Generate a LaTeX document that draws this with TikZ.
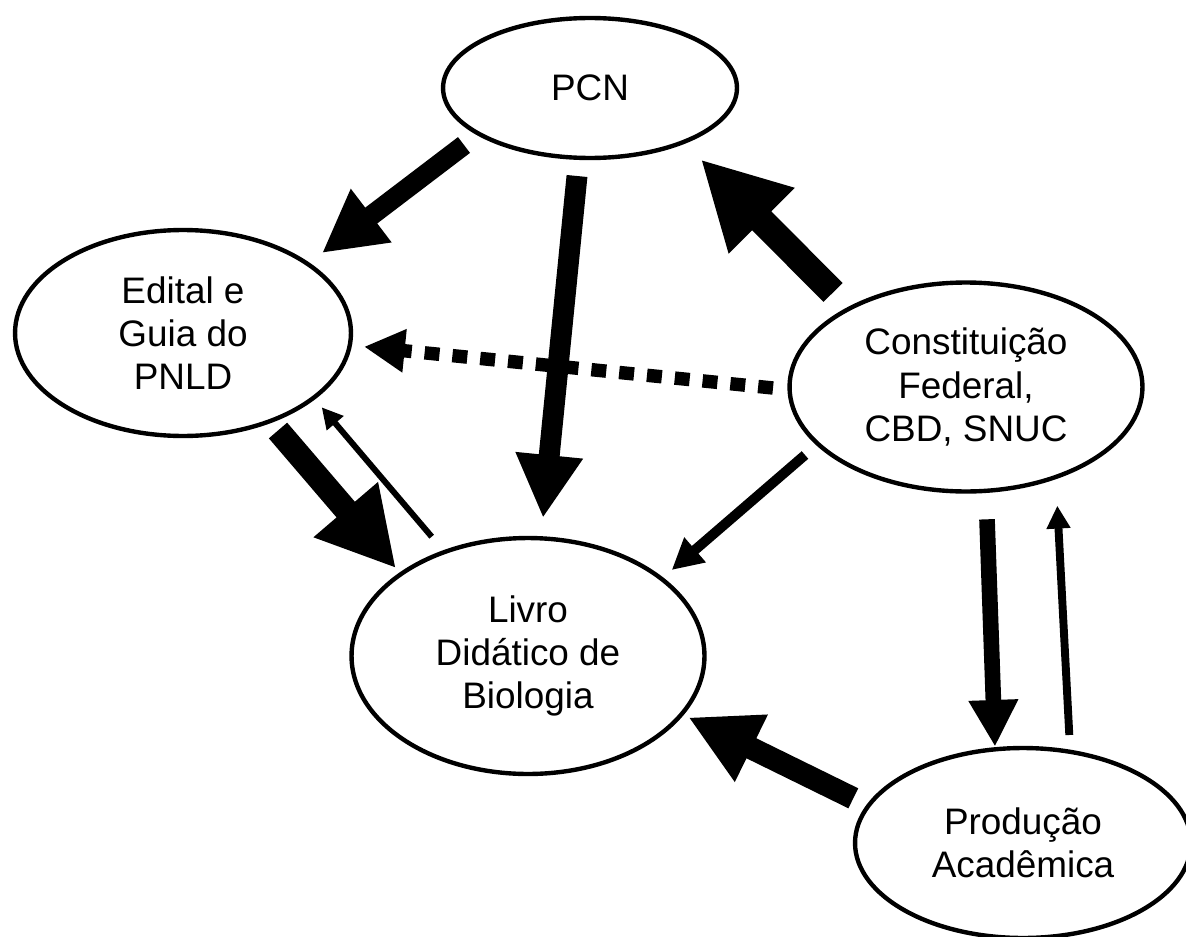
\documentclass[tikz,border=0pt]{standalone}
\usepackage{fontspec}
\setmainfont{Liberation Sans}
\usetikzlibrary{arrows.meta,shapes.geometric}

\begin{document}
\begin{tikzpicture}
                [x=0.02cm, y=-0.02cm,
                caixa/.style={ellipse, draw, line width=2.5pt, inner sep=0pt,
                    align=center, font=\fontsize{21}{24.6}\selectfont},
                seta/.style n args={3}{line width=#1, -{Triangle[length=#2, width=#3]}},
                ]
                \useasboundingbox (0,0) rectangle (1186,936);

                \node[caixa, minimum width=5.88cm, minimum height=2.8cm] (pcn) at (590,88) {PCN};
                \node[caixa, minimum width=6.72cm, minimum height=4.12cm] (edital) at (183,333)
                    {Edital e\\Guia do\\PNLD};
                \node[caixa, minimum width=7.06cm, minimum height=4.18cm] (const) at (966,387)
                    {Constituição\\Federal,\\CBD, SNUC};
                \node[caixa, minimum width=7.06cm, minimum height=4.72cm] (livro) at (528,656)
                    {Livro\\Didático de\\Biologia};
                \node[caixa, minimum width=6.72cm, minimum height=3.8cm] (prod) at (1023,843)
                    {Produção\\Acadêmica};

                % setas grossas
                \draw[seta={11.3pt}{35.2pt}{35.7pt}]
                    ([shift={(-126,57)}]pcn.center) -- ([shift={(139,-80)}]edital.center);
                \draw[seta={11.9pt}{35.9pt}{36pt}]
                    ([shift={(-13,88)}]pcn.center) -- ([shift={(15,-138)}]livro.center);
                \draw[seta={15.3pt}{49.3pt}{49.3pt}]
                    ([shift={(-133,-94.5)}]const.center) -- ([shift={(110.7,71.3)}]pcn.center);
                \draw[seta={13.7pt}{44pt}{45pt}]
                    ([shift={(95,97.5)}]edital.center) -- ([shift={(-132,-87.7)}]livro.center);
                \draw[seta={8.9pt}{26.6pt}{26.5pt}]
                    ([shift={(21,132.3)}]const.center) -- ([shift={(-28,-96.3)}]prod.center);
                \draw[seta={12.7pt}{40pt}{39.7pt}]
                    ([shift={(-169.7,-44.7)}]prod.center) -- ([shift={(160.3,61.3)}]livro.center);

                % setas finas
                \draw[seta={3.4pt}{11.9pt}{11.9pt}]
                    ([shift={(-96.3,-119.3)}]livro.center) -- ([shift={(138.7,74.3)}]edital.center);
                \draw[seta={5.7pt}{17.6pt}{17.6pt}]
                    ([shift={(-161,68)}]const.center) -- ([shift={(143.7,-86)}]livro.center);
                \draw[seta={4.5pt}{13pt}{12.9pt}]
                    ([shift={(46.3,-108)}]prod.center) -- ([shift={(91.3,118.7)}]const.center);

                % tracejada
                \draw[seta={7.65pt}{23.2pt}{23.2pt}, dash pattern=on 8.5pt off 7.4pt]
                    ([shift={(-193,1)}]const.center) -- ([shift={(181,13.7)}]edital.center);
            \end{tikzpicture}
\end{document}
